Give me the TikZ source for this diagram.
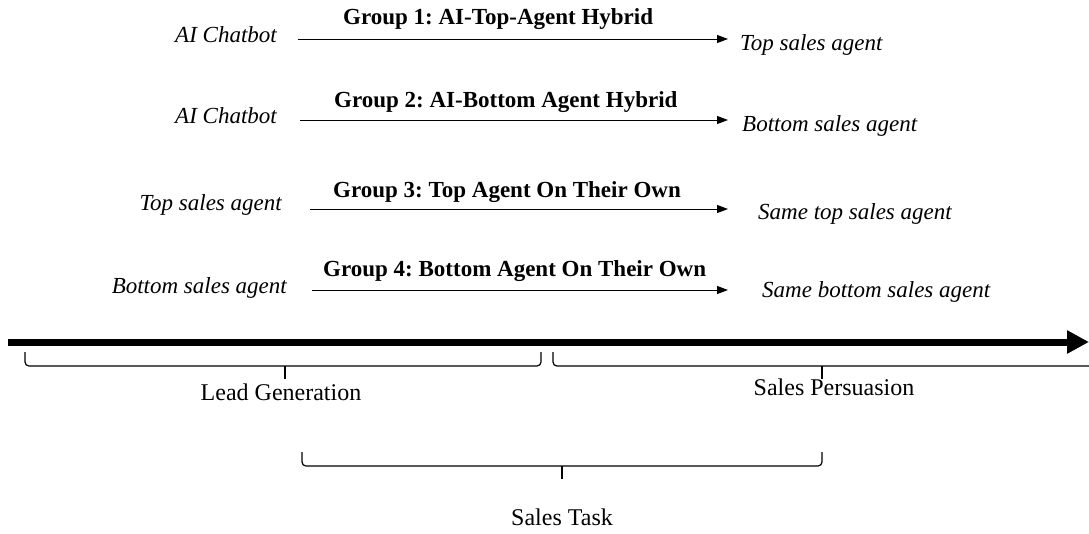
\documentclass[tikz,border=0pt]{standalone}
\usepackage{fontspec}
\setmainfont{Liberation Serif}
\usetikzlibrary{arrows.meta}
\frenchspacing

\begin{document}
\begin{tikzpicture} [
    x=1pt, y=-1pt,
    agent/.style    = { font=\fontsize{23}{27}\selectfont\itshape, inner sep=0pt },
    grp/.style      = { font=\fontsize{23}{27}\selectfont\bfseries, inner sep=0pt, anchor=base west },
    phase/.style    = { font=\fontsize{24}{28}\selectfont, inner sep=0pt, anchor=base },
    flow/.style     = { draw, line width=1pt, -{Triangle[length=11pt,width=8pt]} },
    timeline/.style = { draw, line width=7pt, -{Triangle[length=22pt,width=22pt]} },
    bracket/.style  = { draw, line width=1.2pt, rounded corners=4pt },
  ]
\useasboundingbox (0,0) rectangle (1089,533);

% the four groups
\node (src1) [agent,anchor=base east] at (277,42) {AI Chatbot};
\node (dst1) [agent,anchor=base west] at (740,50) {Top sales agent};
\node (src2) [agent,anchor=base east] at (277,123) {AI Chatbot};
\node (dst2) [agent,anchor=base west] at (742,131) {Bottom sales agent};
\node (src3) [agent,anchor=base east] at (282,210) {Top sales agent};
\node (dst3) [agent,anchor=base west] at (758,219) {Same top sales agent};
\node (src4) [agent,anchor=base east] at (287,293) {Bottom sales agent};
\node (dst4) [agent,anchor=base west] at (762,297) {Same bottom sales agent};

\draw[flow] ([xshift=21pt,yshift=3pt]src1.base east) -- ([xshift=-12pt,yshift=11pt]dst1.base west);
\draw[flow] ([xshift=23pt,yshift=3pt]src2.base east) -- ([xshift=-14pt,yshift=11pt]dst2.base west);
\draw[flow] ([xshift=28pt,yshift=1pt]src3.base east) -- ([xshift=-30pt,yshift=10pt]dst3.base west);
\draw[flow] ([xshift=25pt,yshift=3pt]src4.base east) -- ([xshift=-34pt,yshift=7pt]dst4.base west);

\node (g1) [grp] at (343,24) {Group 1: AI-Top-Agent Hybrid};
\node (g2) [grp] at (334,107) {Group 2: AI-Bottom Agent Hybrid};
\node (g3) [grp] at (333,197) {Group 3: Top Agent On Their Own};
\node (g4) [grp] at (323,276) {Group 4: Bottom Agent On Their Own};

% time axis
\coordinate (t0) at (8,342);
\coordinate (t1) at (1089,342);
\draw[timeline] (t0) -- (t1);

% braces
\draw[bracket] (25,352) |- (541,366) -- (541,352);
\draw[bracket] (285,366) -- (285,379);
\draw[bracket] (553,352) |- (1100,366);
\draw[bracket] (822,366) -- (822,379);
\draw[bracket] (302,452) |- (822,466) -- (822,452);
\draw[bracket] (562,466) -- (562,479);

\node (lead) [phase] at (281,400) {Lead Generation};
\node (pers) [phase] at (834,395) {Sales Persuasion};
\node (task) [phase] at (562,525) {Sales Task};

\end{tikzpicture}
\end{document}
